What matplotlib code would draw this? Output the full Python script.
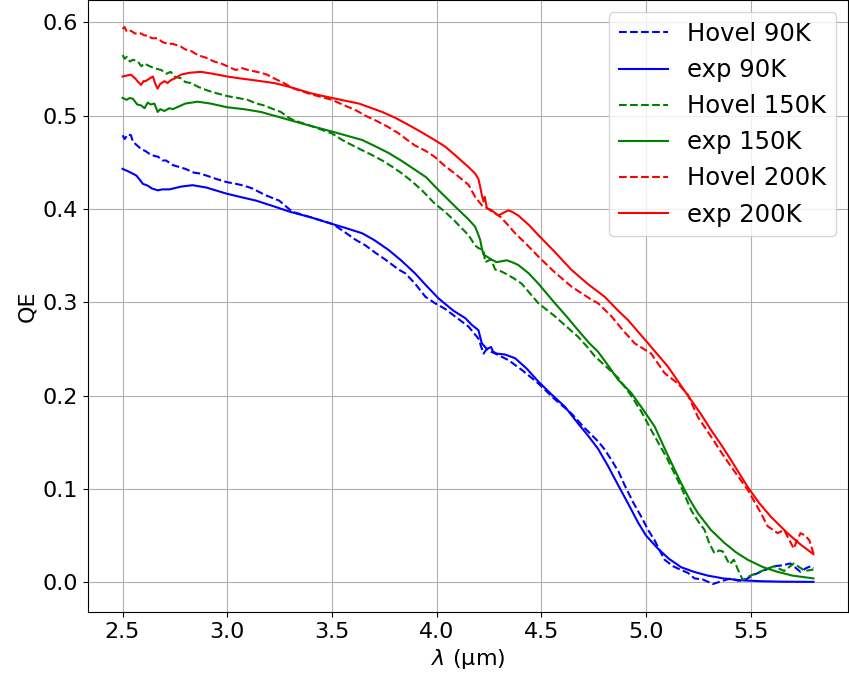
import matplotlib
matplotlib.use("Agg")
import matplotlib.pyplot as plt

hovel_90_wl = [2.50, 2.51, 2.525, 2.54, 2.55, 2.57, 2.59, 2.61, 2.629, 2.65, 2.67, 2.69, 2.708, 2.74, 2.771,
               2.80, 2.84, 2.87, 2.898, 2.95, 2.994, 3.04, 3.08, 3.12, 3.18, 3.248, 3.311, 3.40, 3.502, 3.55,
               3.613, 3.66, 3.708, 3.76, 3.819, 3.851, 3.897, 3.946, 3.992, 4.04, 4.087, 4.152, 4.20, 4.224,
               4.24, 4.26, 4.28, 4.343, 4.41, 4.486, 4.56, 4.643, 4.708, 4.771, 4.80, 4.835, 4.87, 4.898,
               4.94, 4.978, 5.01, 5.041, 5.07, 5.089, 5.13, 5.168, 5.20, 5.232, 5.27, 5.32, 5.36, 5.405,
               5.44, 5.47, 5.516, 5.56, 5.611, 5.65, 5.69, 5.738, 5.765, 5.786, 5.80]
hovel_90_qe = [0.479, 0.475, 0.480, 0.479, 0.472, 0.468, 0.464, 0.462, 0.459, 0.457, 0.456, 0.452, 0.452, 0.447,
               0.445, 0.443, 0.439, 0.438, 0.436, 0.432, 0.429, 0.427, 0.425, 0.422, 0.415, 0.409, 0.397, 0.391,
               0.384, 0.377, 0.367, 0.361, 0.353, 0.345, 0.335, 0.331, 0.320, 0.306, 0.299, 0.293, 0.285, 0.274,
               0.261, 0.245, 0.250, 0.247, 0.245, 0.238, 0.227, 0.213, 0.197, 0.181, 0.165, 0.151, 0.143, 0.131,
               0.118, 0.104, 0.085, 0.070, 0.056, 0.045, 0.032, 0.024, 0.017, 0.013, 0.010, 0.004, 0.003, -0.002,
               0.001, 0.004, 0.0015, 0.002, 0.008, 0.012, 0.017, 0.018, 0.020, 0.011, 0.015, 0.017, 0.015]

exp_90_wl = [2.50, 2.53, 2.565, 2.58, 2.597, 2.62, 2.64, 2.668, 2.69, 2.724, 2.78, 2.834, 2.90, 2.994, 3.06,
             3.137, 3.22, 3.30, 3.40, 3.50, 3.56, 3.644, 3.70, 3.771, 3.83, 3.897, 3.95, 4.01, 4.08, 4.137,
             4.167, 4.20, 4.216, 4.24, 4.26, 4.27, 4.287, 4.327, 4.375, 4.43, 4.486, 4.55, 4.613, 4.676, 4.72,
             4.771, 4.82, 4.867, 4.92, 4.962, 5.0, 5.057, 5.11, 5.168, 5.23, 5.295, 5.37, 5.454, 5.55, 5.65, 5.80]
exp_90_qe = [0.443, 0.440, 0.436, 0.432, 0.427, 0.425, 0.422, 0.420, 0.421, 0.421, 0.424, 0.4255, 0.423, 0.4166,
             0.413, 0.409, 0.403, 0.397, 0.391, 0.384, 0.380, 0.374, 0.367, 0.356, 0.345, 0.331, 0.318, 0.304,
             0.291, 0.283, 0.276, 0.270, 0.256, 0.250, 0.252, 0.247, 0.245, 0.244, 0.240, 0.229, 0.215, 0.201,
             0.188, 0.170, 0.158, 0.143, 0.124, 0.104, 0.082, 0.064, 0.050, 0.036, 0.025, 0.016, 0.011, 0.007,
             0.004, 0.002, 0.001, 0.0005, 0.0003]

hovel_150_wl = [2.50, 2.51, 2.52, 2.535, 2.55, 2.573, 2.59, 2.605, 2.62, 2.65, 2.684, 2.71, 2.73, 2.748, 2.78,
                2.80, 2.827, 2.86, 2.906, 2.95, 3.00, 3.05, 3.097, 3.14, 3.176, 3.22, 3.256, 3.30, 3.319, 3.40,
                3.50, 3.549, 3.60, 3.644, 3.69, 3.74, 3.79, 3.835, 3.88, 3.93, 3.99, 4.04, 4.087, 4.152, 4.184,
                4.20, 4.224, 4.232, 4.26, 4.28, 4.30, 4.327, 4.366, 4.406, 4.486, 4.565, 4.62, 4.676, 4.72,
                4.756, 4.81, 4.867, 4.929, 4.98, 5.025, 5.10, 5.168, 5.216, 5.25, 5.28, 5.30, 5.327, 5.35,
                5.367, 5.399, 5.42, 5.44, 5.462, 5.50, 5.564, 5.611, 5.66, 5.706, 5.76, 5.80]
hovel_150_qe = [0.565, 0.561, 0.563, 0.558, 0.560, 0.558, 0.553, 0.556, 0.554, 0.551, 0.549, 0.545, 0.547, 0.542,
                0.540, 0.536, 0.535, 0.531, 0.527, 0.524, 0.521, 0.519, 0.517, 0.513, 0.511, 0.507, 0.504, 0.497,
                0.495, 0.489, 0.481, 0.474, 0.468, 0.463, 0.458, 0.452, 0.445, 0.438, 0.430, 0.420, 0.406, 0.397,
                0.387, 0.372, 0.361, 0.358, 0.356, 0.343, 0.346, 0.335, 0.334, 0.331, 0.326, 0.320, 0.299, 0.285,
                0.274, 0.263, 0.252, 0.242, 0.231, 0.219, 0.200, 0.182, 0.163, 0.133, 0.102, 0.077, 0.065, 0.056,
                0.043, 0.031, 0.034, 0.033, 0.019, 0.024, 0.013, 0.0025, 0.007, 0.013, 0.017, 0.012, 0.020, 0.012,
                0.0135]

exp_150_wl = [2.50, 2.52, 2.535, 2.55, 2.57, 2.589, 2.605, 2.62, 2.635, 2.652, 2.668, 2.68, 2.70, 2.724, 2.74,
              2.77, 2.80, 2.859, 2.92, 3.00, 3.08, 3.16, 3.24, 3.319, 3.40, 3.50, 3.58, 3.644, 3.70, 3.771,
              3.83, 3.897, 3.95, 4.01, 4.06, 4.105, 4.152, 4.184, 4.20, 4.208, 4.216, 4.224, 4.24, 4.26, 4.287,
              4.335, 4.36, 4.39, 4.44, 4.486, 4.565, 4.62, 4.676, 4.73, 4.771, 4.82, 4.867, 4.929, 4.98, 5.041,
              5.10, 5.168, 5.21, 5.248, 5.31, 5.375, 5.43, 5.486, 5.56, 5.629, 5.70, 5.80]
exp_150_qe = [0.519, 0.517, 0.519, 0.518, 0.512, 0.511, 0.508, 0.514, 0.512, 0.513, 0.504, 0.507, 0.505, 0.508,
              0.507, 0.510, 0.513, 0.515, 0.513, 0.509, 0.507, 0.504, 0.499, 0.494, 0.489, 0.483, 0.478, 0.474,
              0.468, 0.460, 0.452, 0.442, 0.434, 0.420, 0.409, 0.399, 0.389, 0.381, 0.372, 0.367, 0.358, 0.351,
              0.349, 0.346, 0.343, 0.345, 0.343, 0.340, 0.331, 0.320, 0.299, 0.285, 0.270, 0.256, 0.247, 0.232,
              0.217, 0.203, 0.187, 0.167, 0.138, 0.106, 0.088, 0.074, 0.056, 0.042, 0.032, 0.024, 0.016, 0.011,
              0.007, 0.004]

hovel_200_wl = [2.50, 2.51, 2.52, 2.54, 2.56, 2.58, 2.605, 2.62, 2.64, 2.667, 2.69, 2.716, 2.74, 2.779, 2.80,
                2.83, 2.859, 2.90, 2.938, 2.97, 3.00, 3.04, 3.07, 3.10, 3.16, 3.19, 3.224, 3.27, 3.319, 3.40,
                3.50, 3.55, 3.613, 3.66, 3.708, 3.76, 3.819, 3.86, 3.897, 3.95, 3.99, 4.04, 4.087, 4.152, 4.184,
                4.216, 4.24, 4.26, 4.303, 4.34, 4.375, 4.43, 4.486, 4.56, 4.643, 4.738, 4.771, 4.835, 4.89,
                4.946, 5.025, 5.089, 5.152, 5.20, 5.248, 5.311, 5.36, 5.406, 5.486, 5.549, 5.581, 5.629, 5.66,
                5.685, 5.706, 5.72, 5.738, 5.76, 5.78, 5.80]
hovel_200_qe = [0.593, 0.595, 0.590, 0.591, 0.588, 0.589, 0.586, 0.586, 0.583, 0.583, 0.579, 0.577, 0.577, 0.574,
                0.571, 0.569, 0.565, 0.562, 0.558, 0.556, 0.553, 0.549, 0.551, 0.549, 0.546, 0.544, 0.540, 0.535,
                0.529, 0.523, 0.517, 0.512, 0.506, 0.500, 0.495, 0.489, 0.481, 0.474, 0.468, 0.462, 0.456, 0.446,
                0.438, 0.426, 0.413, 0.404, 0.401, 0.398, 0.392, 0.383, 0.374, 0.362, 0.349, 0.333, 0.317, 0.303,
                0.299, 0.285, 0.270, 0.256, 0.245, 0.224, 0.213, 0.201, 0.177, 0.156, 0.139, 0.124, 0.099, 0.074,
                0.060, 0.0525, 0.056, 0.045, 0.036, 0.044, 0.0525, 0.050, 0.045, 0.031]

exp_200_wl = [2.50, 2.52, 2.54, 2.56, 2.575, 2.589, 2.60, 2.61, 2.63, 2.645, 2.655, 2.667, 2.68, 2.70, 2.715,
              2.73, 2.75, 2.779, 2.82, 2.874, 2.93, 3.00, 3.06, 3.128, 3.224, 3.295, 3.40, 3.50, 3.629, 3.74,
              3.80, 3.867, 3.93, 3.99, 4.04, 4.087, 4.152, 4.184, 4.20, 4.208, 4.216, 4.224, 4.23, 4.24, 4.26,
              4.295, 4.32, 4.343, 4.36, 4.39, 4.44, 4.486, 4.56, 4.643, 4.72, 4.802, 4.867, 4.914, 5.01, 5.105,
              5.20, 5.26, 5.311, 5.36, 5.406, 5.486, 5.54, 5.597, 5.676, 5.74, 5.80]
exp_200_qe = [0.542, 0.543, 0.544, 0.540, 0.536, 0.533, 0.537, 0.537, 0.540, 0.542, 0.535, 0.529, 0.534, 0.537,
              0.535, 0.538, 0.540, 0.544, 0.546, 0.547, 0.545, 0.542, 0.540, 0.538, 0.535, 0.531, 0.524, 0.519,
              0.513, 0.504, 0.498, 0.490, 0.482, 0.474, 0.467, 0.458, 0.445, 0.438, 0.432, 0.424, 0.415, 0.408,
              0.413, 0.401, 0.399, 0.393, 0.396, 0.3985, 0.397, 0.393, 0.383, 0.372, 0.355, 0.335, 0.320, 0.306,
              0.291, 0.281, 0.256, 0.231, 0.200, 0.181, 0.163, 0.147, 0.131, 0.102, 0.085, 0.070, 0.0525, 0.040,
              0.030]

fig = plt.figure(figsize=(8.49, 6.81), dpi=100)
ax = fig.add_axes([88 / 849, 69 / 681, 760 / 849, 612 / 681])

ax.plot(hovel_90_wl, hovel_90_qe, 'b--', label="Hovel 90K")
ax.plot(exp_90_wl, exp_90_qe, 'b-', label="exp 90K")
ax.plot(hovel_150_wl, hovel_150_qe, 'g--', label="Hovel 150K")
ax.plot(exp_150_wl, exp_150_qe, 'g-', label="exp 150K")
ax.plot(hovel_200_wl, hovel_200_qe, 'r--', label="Hovel 200K")
ax.plot(exp_200_wl, exp_200_qe, 'r-', label="exp 200K")

ax.set_xlim(2.335, 5.965)
ax.set_ylim(-0.032, 0.624)
ax.tick_params(labelsize=16)
ax.set_xlabel(r"$\lambda$ (µm)", fontsize=16)
ax.set_ylabel("QE", fontsize=16)
ax.grid(True)
ax.legend(loc="upper right", fontsize=17.5)

fig.savefig("out.png", dpi=100)
